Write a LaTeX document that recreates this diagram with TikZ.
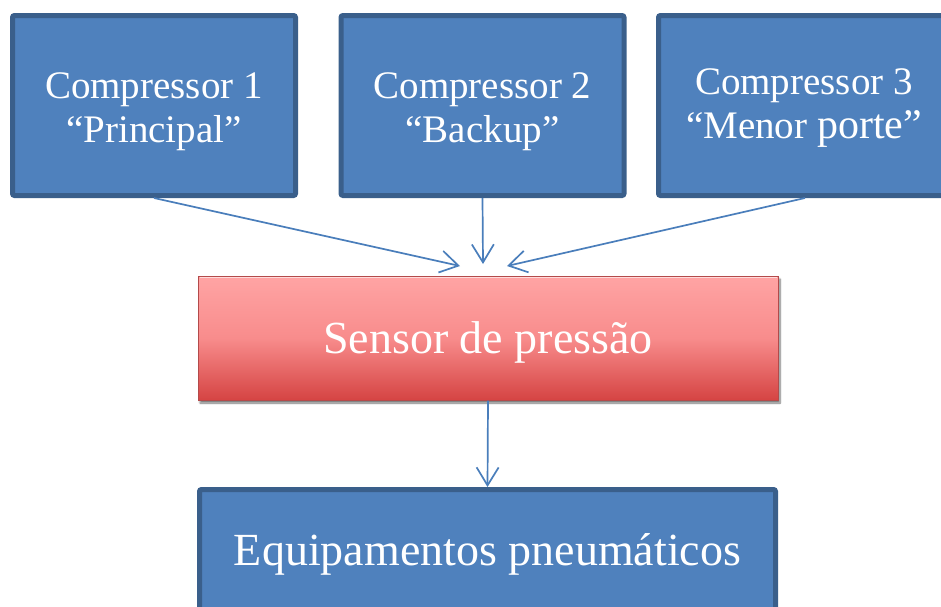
\documentclass[tikz,border=0pt]{standalone}
\usepackage{fontspec}
\setmainfont{Liberation Serif}
\usetikzlibrary{arrows.meta,shadows.blur}

\definecolor{boxfill}{HTML}{4F81BD}
\definecolor{boxedge}{HTML}{3A5F8B}
\definecolor{sensortop}{HTML}{FFA4A4}
\definecolor{sensormid}{HTML}{F88C8C}
\definecolor{sensorbot}{HTML}{D54443}
\definecolor{sensoredge}{HTML}{B34A4A}
\definecolor{flow}{HTML}{4A7EBB}

\tikzset{
  unitbox/.style={draw=boxedge, fill=boxfill, line width=5pt, rounded corners=2pt, inner sep=0pt},
  compbox/.style={unitbox, minimum width=283pt, minimum height=180pt},
  sensorbox/.style={draw=sensoredge, line width=1pt, inner sep=0pt,
    minimum width=580pt, minimum height=124pt,
    top color=sensortop, bottom color=sensorbot, middle color=sensormid,
    blur shadow={shadow xshift=2pt, shadow yshift=-3pt, shadow blur steps=8, shadow opacity=55}},
  boxtext/.style={text=white, align=center, inner sep=0pt},
  comptext/.style={boxtext, font=\fontsize{39}{44}\selectfont},
  bigtext/.style={boxtext, font=\fontsize{46}{50}\selectfont},
  flowarrow/.style={draw=flow, line width=1.7pt, -{Straight Barb[length=18pt,width=22pt,line width=1.7pt]}}
}

\begin{document}
\begin{tikzpicture}[x=1pt,y=-1pt]
  \useasboundingbox (0,0) rectangle (941,606);

  % sources
  \node[compbox] (c1) at (154,105.5) {};
  \node[compbox] (c2) at (482.5,105.5) {};
  \node[compbox, minimum width=293pt] (c3) at (805,105.5) {};
  \node[comptext] (c1text) at ([yshift=-6pt]c1.center) {Compressor 1\\“Principal”};
  \node[comptext] (c2text) at ([yshift=-6pt]c2.center) {Compressor 2\\“Backup”};
  \node[comptext] (c3text) at ([xshift=-1pt,yshift=-3pt]c3.center) {Compressor 3\\“Menor {\fontsize{42}{44}\selectfont porte”}};

  % pressure sensor
  \node[sensorbox] (sensor) at (488,338) {};
  \draw[white, opacity=0.6, line width=1pt] ([xshift=2pt,yshift=-1.5pt]sensor.north west) -- ([xshift=-2pt,yshift=-1.5pt]sensor.north east);
  \node[bigtext] (sensortext) at ([yshift=-4pt]sensor.center) {Sensor de pressão};

  % consumers
  \node[unitbox, minimum width=576pt, minimum height=122pt] (equip) at (487.5,550.5) {};
  \node[bigtext] (equiptext) at ([yshift=-4pt]equip.center) {Equipamentos pneumáticos};

  % connectors
  \coordinate (inL) at (460,266);
  \coordinate (inM) at (483,264);
  \coordinate (inR) at (507,266);
  \draw[flowarrow] (c1.south) -- (inL);
  \draw[flowarrow] (c2.south) -- (inM);
  \draw[flowarrow] (c3.south) -- (inR);
  \draw[flowarrow] (sensor.south) -- (equip.north);
\end{tikzpicture}
\end{document}
